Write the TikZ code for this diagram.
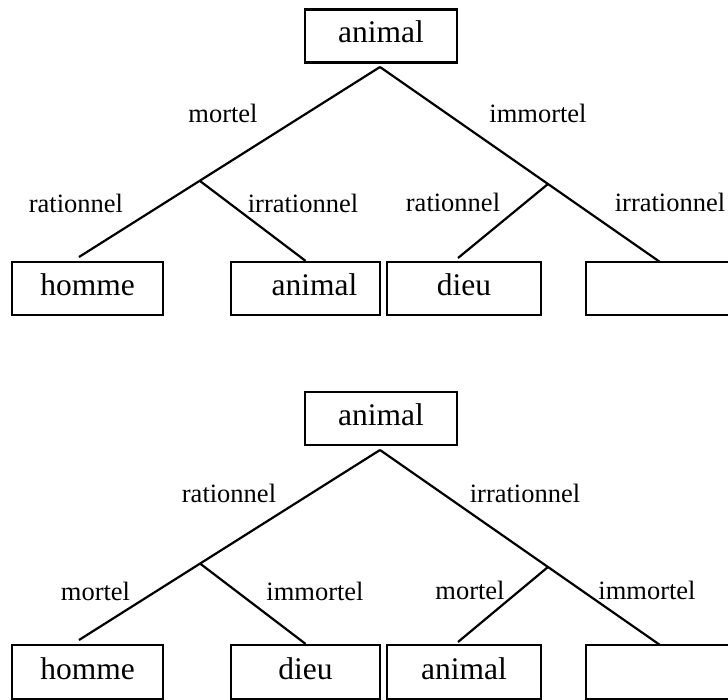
\documentclass[tikz,border=0pt]{standalone}
\usepackage{fontspec}
\setmainfont{Liberation Serif}
\begin{document}
\begin{tikzpicture}[x=1pt,y=-1pt,
  leaf/.style={draw, line width=2.3pt, minimum width=151pt, minimum height=53pt,
    inner sep=0pt, text height=22pt, text depth=8pt, font=\fontsize{31.5}{36}\selectfont},
  lab/.style={anchor=base, inner sep=0pt, font=\fontsize{26.5}{30}\selectfont},
  edge/.style={line width=2.2pt}]
\clip (0,0) rectangle (728,700);
% ---------- top tree ----------
\node[leaf, minimum width=152pt] (r1) at (381,36) {animal};
\coordinate (a1) at (380,67);
\node[leaf] (l1) at (87.5,288.5) {homme};
\node[leaf, minimum width=149pt] (l2) at (305.5,288.5) {\hspace*{18pt}animal};
\node[leaf, minimum width=154pt] (l3) at (464,288.5) {dieu};
\node[leaf, minimum width=170pt, anchor=west] (l4) at (585,288.5) {};
\coordinate (e1) at (79,257);
\coordinate (b1) at (200,181);
\coordinate (b2) at (548,184);
\coordinate (e3) at (458,258);
\coordinate (e4) at (660,262);
\draw[edge] (a1) -- (e1);
\draw[edge] (a1) -- (e4);
\draw[edge] (b1) -- (l2.north);
\draw[edge] (b2) -- (e3);
\node[lab] (t1) at (223,123) {mortel};
\node[lab] (t2) at (538,123) {immortel};
\node[lab] (t3) at (76,213) {rationnel};
\node[lab] (t4) at (303,213) {irrationnel};
\node[lab] (t5) at (453,212) {rationnel};
\node[lab] (t6) at (670,212) {irrationnel};
% ---------- bottom tree ----------
\node[leaf, minimum width=152pt] (r2) at (381,418.5) {animal};
\coordinate (a2) at (380,450);
\node[leaf, minimum height=54pt] (m1) at (87.5,672) {homme};
\node[leaf, minimum width=149pt, minimum height=54pt] (m2) at (305.5,672) {dieu};
\node[leaf, minimum width=154pt, minimum height=54pt] (m3) at (464,672) {animal};
\node[leaf, minimum width=170pt, minimum height=54pt, anchor=west] (m4) at (585,672) {};
\coordinate (e5) at (79,640);
\coordinate (b3) at (200,563.5);
\coordinate (b4) at (548,567);
\coordinate (e7) at (458,642);
\coordinate (e8) at (660,645);
\draw[edge] (a2) -- (e5);
\draw[edge] (a2) -- (e8);
\draw[edge] (b3) -- (m2.north);
\draw[edge] (b4) -- (e7);
\node[lab] (s1) at (229,502) {rationnel};
\node[lab] (s2) at (525,502) {irrationnel};
\node[lab] (s3) at (95.5,600) {mortel};
\node[lab] (s4) at (315,600) {immortel};
\node[lab] (s5) at (470,599) {mortel};
\node[lab] (s6) at (647,599) {immortel};
\end{tikzpicture}
\end{document}
